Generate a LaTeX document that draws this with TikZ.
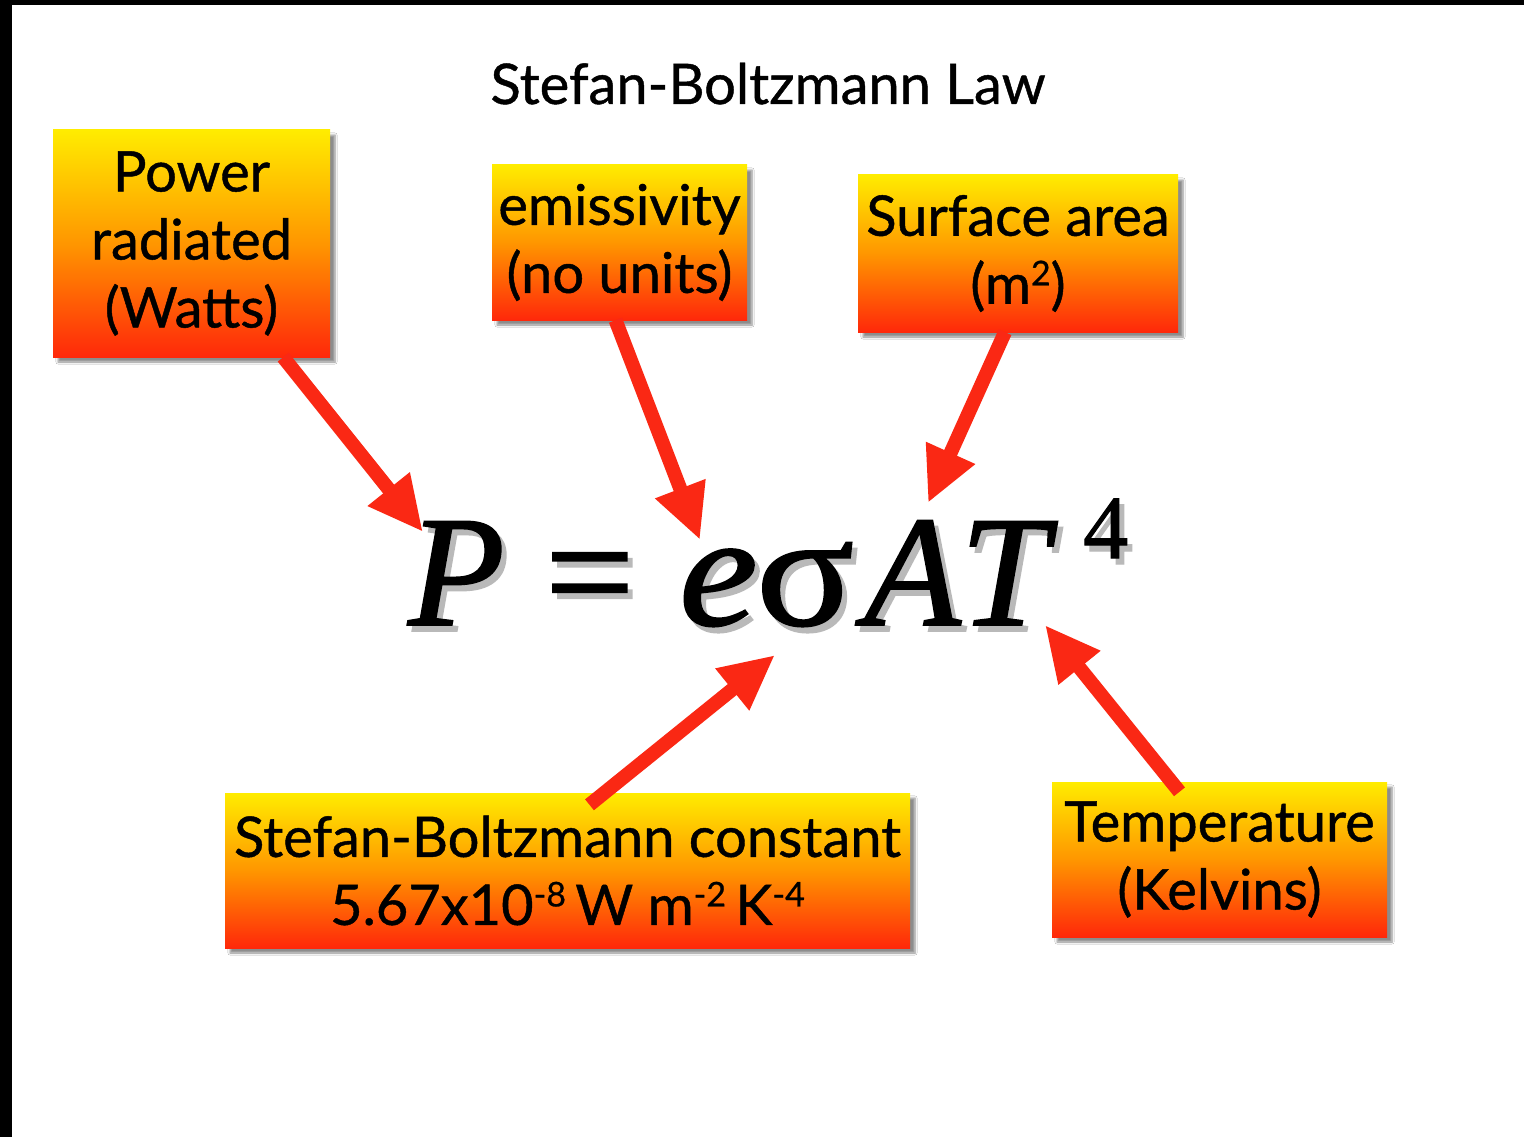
\documentclass[tikz,border=0pt]{standalone}
\usepackage{fontspec}
\setmainfont{Lato}
\newfontface\lblfont[FakeBold=0.8]{Lato}
\newfontface\eqit[FakeBold=1.2]{Liberation Serif Italic}
\newfontface\equp[FakeBold=1.2]{Liberation Serif}
\usetikzlibrary{arrows.meta,shadows.blur}
\definecolor{boxtop}{RGB}{255,236,0}
\definecolor{boxmid}{RGB}{255,150,0}
\definecolor{boxbot}{RGB}{255,40,10}
\definecolor{arrowred}{RGB}{250,40,20}
\definecolor{eqshade}{RGB}{185,185,185}
\newcommand{\shd}[1]{\makebox[0pt][l]{\hspace{5pt}\raisebox{-6pt}{\color{eqshade}#1}}#1}
\newcommand{\up}[1]{\raisebox{0.33em}{\fontsize{34}{34}\selectfont #1}}
\tikzset{
  labelbox/.style={rectangle, inner sep=0pt, align=center,
    top color=boxtop, bottom color=boxbot, middle color=boxmid,
    blur shadow={shadow xshift=5pt, shadow yshift=-5pt, shadow blur steps=6, shadow opacity=45},
    font=\lblfont\fontsize{56}{68}\selectfont},
  pointer/.style={draw=arrowred, line width=14pt,
    -{Triangle[length=55pt,width=50pt,fill=arrowred]}},
  eqtxt/.style={anchor=base west, inner sep=0pt, font=\fontsize{158}{160}\selectfont},
}
\begin{document}
\begin{tikzpicture}[x=1pt,y=-1pt]
\useasboundingbox (0,0) rectangle (1524,1137);
\fill[white] (0,0) rectangle (1524,1137);
\fill[black] (0,0) rectangle (1524,5);
\fill[black] (0,0) rectangle (12,1137);

\node[anchor=base, inner sep=0pt, font=\lblfont\fontsize{56}{62}\selectfont] (title) at (768,104) {Stefan-Boltzmann Law};

% equation
\node[eqtxt] (eqP) at (408,625) {\eqit\shd{P}};
\node[eqtxt] (eqEq) at (545,625) {\equp\shd{=}};
\node[eqtxt] (eqE) at (679,625) {\eqit\shd{\scalebox{1.12}[1.02]{e}}};
\node[eqtxt] (eqSig) at (756,625) {\equp\shd{\scalebox{1.15}[1.02]{σ}}};
\node[eqtxt] (eqA) at (864,625) {\eqit\shd{A}};
\node[eqtxt] (eqT) at (960,625) {\eqit\shd{T}};
\node[eqtxt, font=\fontsize{90}{92}\selectfont] (eq4) at (1083,558) {\equp\shd{4}};

% boxes
\node[labelbox, minimum width=277pt, minimum height=227pt] (pw) at (191.5,243.5) {Power\\radiated\\(Watts)};
\node[labelbox, minimum width=255pt, minimum height=155pt] (em) at (619.5,242.5) {emissivity\\(no units)};
\node[labelbox, minimum width=320pt, minimum height=157pt] (sa) at (1018,253.5) {Surface area\\(m\up{2})};
\node[labelbox, minimum width=685pt, minimum height=155pt] (sb) at (567.5,870.5) {Stefan-Boltzmann constant\\5.67x10\up{-8}\,W m\up{-2}\,K\up{-4}};
\node[labelbox, minimum width=335pt, minimum height=155pt] (tk) at (1219.5,859.5) {Temperature\\(Kelvins)};

% arrow tips
\coordinate (tipP) at (423,532);
\coordinate (tipE) at (700,540);
\coordinate (tipA) at (928,503);
\coordinate (tipS) at (775,655);
\coordinate (tipT) at (1045,625);

\draw[pointer] ([xshift=-47pt]pw.south east) -- (tipP);
\draw[pointer] ([xshift=-4pt]em.south) -- (tipE);
\draw[pointer] ([xshift=-13pt]sa.south) -- (tipA);
\draw[pointer] ([xshift=22pt,yshift=-12pt]sb.north) -- (tipS);
\draw[pointer] ([xshift=-40pt,yshift=-10pt]tk.north) -- (tipT);
\end{tikzpicture}
\end{document}
